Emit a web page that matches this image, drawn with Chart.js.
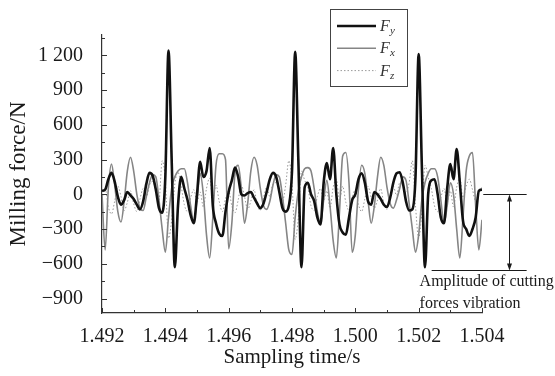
<!DOCTYPE html>
<html>
<head>
<meta charset="utf-8">
<script src="https://cdn.jsdelivr.net/npm/chart.js@4.4.1/dist/chart.umd.min.js"></script>
<style>
  html, body { margin: 0; padding: 0; background: #fff; }
</style>
</head>
<body>
<canvas id="chart" width="555" height="376"></canvas>
<script>
// sampling instants (s)
const sampleTimes = [
  1.4920,1.4921,1.4922,1.4923,1.4924,1.4925,1.4926,1.4927,1.4928,1.4929,
  1.4930,1.4931,1.4932,1.4933,1.4934,1.4935,1.4936,1.4937,1.4938,1.4939,
  1.4940,1.4941,1.4942,1.4943,1.4944,1.4945,1.4946,1.4947,1.4948,1.4949,
  1.4950,1.4951,1.4952,1.4953,1.4954,1.4955,1.4956,1.4957,1.4958,1.4959,
  1.4960,1.4961,1.4962,1.4963,1.4964,1.4965,1.4966,1.4967,1.4968,1.4969,
  1.4970,1.4971,1.4972,1.4973,1.4974,1.4975,1.4976,1.4977,1.4978,1.4979,
  1.4980,1.4981,1.4982,1.4983,1.4984,1.4985,1.4986,1.4987,1.4988,1.4989,
  1.4990,1.4991,1.4992,1.4993,1.4994,1.4995,1.4996,1.4997,1.4998,1.4999,
  1.5000,1.5001,1.5002,1.5003,1.5004,1.5005,1.5006,1.5007,1.5008,1.5009,
  1.5010,1.5011,1.5012,1.5013,1.5014,1.5015,1.5016,1.5017,1.5018,1.5019,
  1.5020,1.5021,1.5022,1.5023,1.5024,1.5025,1.5026,1.5027,1.5028,1.5029,
  1.5030,1.5031,1.5032,1.5033,1.5034,1.5035,1.5036,1.5037,1.5038,1.5039,
  1.5040
];

// milling force components (N)
const forceY = [
  30,40,130,185,110,-20,-90,-50,20,-10,
  -40,-90,-130,-60,90,185,160,40,-120,-160,
  150,1240,300,-630,-100,150,50,-50,-180,-250,
  0,280,150,200,400,-100,-250,-340,-360,-150,
  20,120,230,150,0,-10,10,20,-30,-80,
  -120,-80,20,130,185,150,20,-120,-150,-100,
  200,1230,300,-630,60,100,0,-60,-200,-260,
  100,270,130,400,0,-260,-330,-350,-200,-50,
  0,130,180,100,-60,-90,20,0,-40,-90,
  -110,-30,100,180,190,100,-60,-140,-130,150,
  1210,250,-630,0,120,130,0,-200,-250,50,
  260,130,390,100,-230,-300,-360,-300,-200,30,
  40
];
const forceX = [
  0,-480,50,260,80,-150,-240,-60,200,320,
  200,0,-120,-140,-20,100,170,150,-50,-300,
  -500,-200,50,150,200,220,220,100,-100,-240,
  -50,180,0,-350,-550,-200,250,350,350,300,
  -470,-250,180,250,50,-250,-80,200,320,250,
  50,-100,-130,-60,80,170,150,-20,-250,-480,
  -520,-200,30,150,220,230,200,50,-150,-250,
  -50,120,-100,-400,-550,-150,330,360,100,-500,
  -350,50,250,180,-50,-250,-100,150,320,250,
  60,-80,-120,-50,50,150,120,-80,-300,-500,
  -350,-50,100,180,220,220,150,-50,-250,-100,
  100,0,-300,-550,-200,200,330,360,-100,-480,
  -220
];
const forceZ = [
  -40,50,-110,-170,-60,70,-20,-140,-70,30,
  -80,-150,-40,50,-30,80,110,30,-50,290,
  120,-380,-220,90,190,70,-90,-150,-30,40,
  -70,20,-110,50,140,-40,80,-60,-150,-40,
  30,-100,-160,-50,80,-20,-130,-60,40,-90,
  -140,-30,60,-20,90,100,20,-60,80,290,
  100,-390,-200,200,120,60,-100,-140,-20,50,
  -60,30,-120,60,130,-50,70,-70,-140,-30,
  40,-90,-150,-40,70,-30,-120,-50,50,-80,
  -130,-20,70,-10,100,90,10,100,290,-100,
  -380,-150,250,150,50,-100,-150,-30,50,-70,
  30,-110,60,140,-30,70,130,40,-60,20,
  60
];

const legendSymbols = ['F', 'F', 'F'];
const legendSubscripts = ['y', 'x', 'z'];

const xTickValues = [1.492,1.493,1.494,1.495,1.496,1.497,1.498,1.499,1.500,1.501,1.502,1.503,1.504];
const xTickLabels = ['1.492','','1.494','','1.496','','1.498','','1.500','','1.502','','1.504'];
const yTickValues = [-900,-750,-600,-450,-300,-150,0,150,300,450,600,750,900,1050,1200,1350];
const yTickLabels = ['\u2212900','','\u2212600','','\u2212300','','0','','300','','600','','900','','1 200',''];

// vibration amplitude marker (N) and its note
const amplitudeLevels = [0, -650];
const amplitudeNote = ['Amplitude of cutting', 'forces vibration'];

const serif = '"Liberation Serif", "Times New Roman", serif';
const ink = '#1a1a1a';

function toPoints(values) {
  return values.map((v, i) => ({ x: sampleTimes[i], y: v }));
}

// tick marks pointing into the plot
const inwardTicks = {
  id: 'inwardTicks',
  afterDraw(chart) {
    const { ctx, chartArea: area, scales: { x, y } } = chart;
    ctx.save();
    ctx.strokeStyle = '#333';
    ctx.lineWidth = 1;
    ctx.beginPath();
    x.ticks.forEach((t, i) => {
      const px = Math.round(x.getPixelForValue(t.value)) + 0.5;
      const len = xTickLabels[i] ? 5 : 3;
      ctx.moveTo(px, area.bottom);
      ctx.lineTo(px, area.bottom - len);
    });
    y.ticks.forEach((t, i) => {
      const py = Math.round(y.getPixelForValue(t.value)) + 0.5;
      const len = yTickLabels[i] ? 5 : 3;
      ctx.moveTo(area.left, py);
      ctx.lineTo(area.left + len, py);
    });
    ctx.stroke();
    ctx.restore();
  }
};

// boxed legend in the upper middle
const legendBox = {
  id: 'legendBox',
  afterDraw(chart) {
    const ctx = chart.ctx;
    ctx.save();
    ctx.strokeStyle = '#444';
    ctx.lineWidth = 1;
    ctx.strokeRect(330.5, 9.5, 77, 77);
    chart.data.datasets.forEach((ds, i) => {
      const yy = 26 + i * 22.3;
      ctx.beginPath();
      ctx.setLineDash(ds.borderDash || []);
      ctx.strokeStyle = ds.borderColor;
      ctx.lineWidth = ds.borderWidth;
      ctx.moveTo(337, yy);
      ctx.lineTo(376, yy);
      ctx.stroke();
      ctx.setLineDash([]);
      ctx.fillStyle = '#333';
      ctx.textBaseline = 'alphabetic';
      ctx.font = 'italic 16px ' + serif;
      ctx.fillText(legendSymbols[i], 380, yy + 5);
      ctx.font = 'italic 11px ' + serif;
      ctx.fillText(legendSubscripts[i], 390, yy + 8);
    });
    ctx.restore();
  }
};

// double arrow showing the vibration amplitude
const amplitudeMarker = {
  id: 'amplitudeMarker',
  afterDraw(chart) {
    const { ctx, scales: { x, y } } = chart;
    const yTop = Math.round(y.getPixelForValue(amplitudeLevels[0])) + 0.5;
    const yLow = Math.round(y.getPixelForValue(amplitudeLevels[1])) + 0.5;
    const xRight = x.getPixelForValue(1.50541);
    const xArrow = Math.round(x.getPixelForValue(1.50484)) + 0.5;
    ctx.save();
    ctx.strokeStyle = ink;
    ctx.fillStyle = ink;
    ctx.lineWidth = 1;
    ctx.beginPath();
    ctx.moveTo(x.getPixelForValue(1.50404), yTop);
    ctx.lineTo(xRight, yTop);
    ctx.moveTo(x.getPixelForValue(1.50241), yLow);
    ctx.lineTo(xRight, yLow);
    ctx.moveTo(xArrow, yTop + 6);
    ctx.lineTo(xArrow, yLow - 6);
    ctx.stroke();
    ctx.beginPath();
    ctx.moveTo(xArrow, yTop);
    ctx.lineTo(xArrow - 2.5, yTop + 7);
    ctx.lineTo(xArrow + 2.5, yTop + 7);
    ctx.closePath();
    ctx.moveTo(xArrow, yLow);
    ctx.lineTo(xArrow - 2.5, yLow - 7);
    ctx.lineTo(xArrow + 2.5, yLow - 7);
    ctx.closePath();
    ctx.fill();
    ctx.font = '16px ' + serif;
    ctx.textBaseline = 'middle';
    ctx.textAlign = 'left';
    const xText = x.getPixelForValue(1.50203);
    ctx.fillText(amplitudeNote[0], xText, yLow + 11);
    ctx.fillText(amplitudeNote[1], xText, yLow + 33);
    ctx.restore();
  }
};

new Chart(document.getElementById('chart'), {
  type: 'line',
  data: {
    datasets: [
      { label: 'Fy', data: toPoints(forceY), borderColor: '#111', borderWidth: 2.6, pointRadius: 0, cubicInterpolationMode: 'monotone', order: 0 },
      { label: 'Fx', data: toPoints(forceX), borderColor: '#858585', borderWidth: 1.6, pointRadius: 0, cubicInterpolationMode: 'monotone', order: 1 },
      { label: 'Fz', data: toPoints(forceZ), borderColor: '#9a9a9a', borderWidth: 1, borderDash: [1.5, 2], pointRadius: 0, cubicInterpolationMode: 'monotone', order: 2 }
    ]
  },
  options: {
    responsive: false,
    animation: false,
    layout: { padding: { top: 35, right: 73, left: 0, bottom: 0 } },
    plugins: { legend: { display: false }, tooltip: { enabled: false } },
    scales: {
      x: {
        type: 'linear',
        min: 1.492,
        max: 1.504,
        grid: { display: false },
        border: { display: true, color: '#333', width: 1.2 },
        afterBuildTicks: (s) => { s.ticks = xTickValues.map(v => ({ value: v })); },
        afterFit: (s) => { s.height = 63; },
        ticks: {
          autoSkip: false,
          maxRotation: 0,
          padding: 4,
          color: ink,
          font: { family: serif, size: 20 },
          callback: (v, i) => xTickLabels[i]
        },
        title: {
          display: true,
          text: 'Sampling time/s',
          color: ink,
          font: { family: serif, size: 21 },
          padding: { bottom: 6 }
        }
      },
      y: {
        min: -1025,
        max: 1375,
        grid: { display: false },
        border: { display: true, color: '#333', width: 1.2 },
        afterBuildTicks: (s) => { s.ticks = yTickValues.map(v => ({ value: v })); },
        afterFit: (s) => { s.width = 102; },
        ticks: {
          autoSkip: false,
          padding: 11,
          color: ink,
          font: { family: serif, size: 20 },
          callback: (v, i) => yTickLabels[i]
        },
        title: {
          display: true,
          text: 'Milling force/N',
          color: ink,
          font: { family: serif, size: 23 },
          padding: { top: 5 }
        }
      }
    }
  },
  plugins: [inwardTicks, legendBox, amplitudeMarker]
});
</script>
</body>
</html>
